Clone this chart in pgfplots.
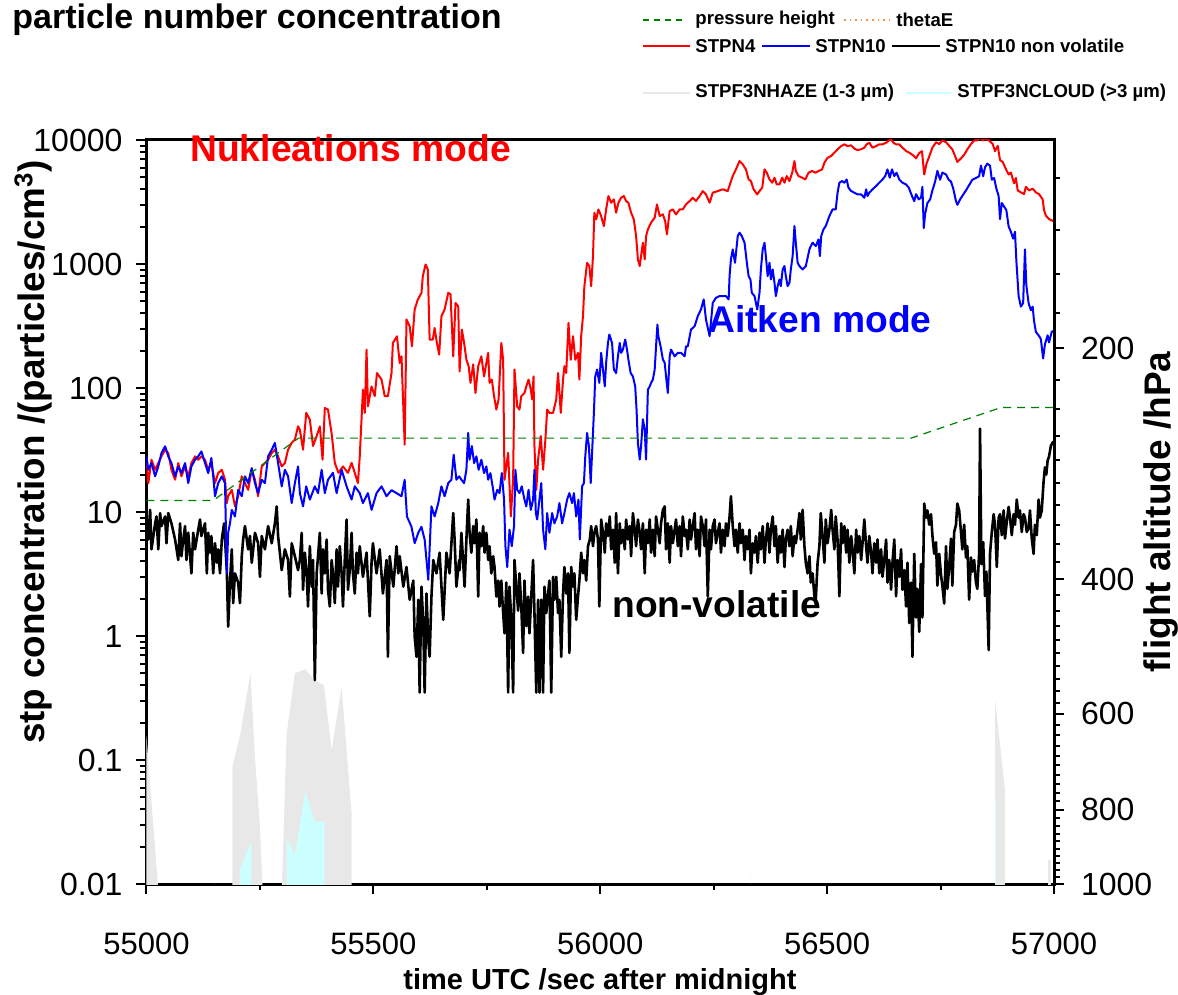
\documentclass[border=0pt]{standalone}
\usepackage{pgfplots}
\pgfplotsset{compat=1.18}
\usepackage{fontspec}
\setmainfont{Liberation Sans}
\definecolor{hazegray}{RGB}{232,232,232}
\definecolor{cloudcyan}{RGB}{204,255,255}
\definecolor{pgreen}{RGB}{0,128,0}
\definecolor{thetaorange}{RGB}{240,150,80}
\newcommand{\xtickfnt}{\fontsize{15.5pt}{16pt}\selectfont}
\newcommand{\ytickfnt}{\fontsize{16pt}{17pt}\selectfont}
\newcommand{\rtickfnt}{\fontsize{16pt}{17pt}\selectfont}
\newcommand{\legfnt}{\bfseries\fontsize{9.3pt}{10pt}\selectfont}
\begin{document}
\begin{tikzpicture}
\path[use as bounding box] (-73.25pt,-55.5pt) rectangle (515.75pt,442pt);
\begin{axis}[
  at={(0pt,0pt)}, anchor=south west,
  scale only axis, width=453.75pt, height=372pt,
  xmin=55000, xmax=57000,
  ymode=log, ymin=0.01, ymax=10000,
  axis line style={line width=1.5pt},
  tick align=outside, tick pos=left,
  scaled x ticks=false,
  xtick={55000,55500,56000,56500,57000},
  xticklabels={55000,55500,56000,56500,57000},
  minor xtick={55250,55750,56250,56750},
  ytick={0.01,0.1,1,10,100,1000,10000},
  yticklabels={0.01,0.1,1,10,100,1000,10000},
  minor ytick={0.02,0.03,0.04,0.05,0.06,0.07,0.08,0.09,0.2,0.3,0.4,0.5,0.6,0.7,0.8,0.9,2,3,4,5,6,7,8,9,20,30,40,50,60,70,80,90,200,300,400,500,600,700,800,900,2000,3000,4000,5000,6000,7000,8000,9000},
  major tick length=5pt, minor tick length=3pt,
  every tick/.style={black, line width=1pt},
  xticklabel style={font=\xtickfnt, yshift=-16pt},
  yticklabel style={font=\ytickfnt, xshift=-3.5pt},
]
% STPF3NHAZE (1-3 um)
\addplot[fill=hazegray, draw=none] coordinates {(55000,0.001) (55000,0.155) (55025,0.01) (55026,0.001)} -- cycle;
\addplot[fill=hazegray, draw=none] coordinates {(55147,0.001) (55149,0.0118) (55151,0.001)} -- cycle;
\addplot[fill=hazegray, draw=none] coordinates {(55189,0.001) (55189,0.0885) (55206,0.155) (55229,0.50) (55239,0.106) (55250,0.029) (55267,0.001)} -- cycle;
\addplot[fill=hazegray, draw=none] coordinates {(55290,0.001) (55309,0.164) (55327,0.50) (55350,0.54) (55371,0.44) (55391,0.40) (55408,0.12) (55430,0.39) (55452,0.037) (55452,0.001)} -- cycle;
\addplot[fill=hazegray, draw=none] coordinates {(56331,0.001) (56332,0.013) (56333,0.001)} -- cycle;
\addplot[fill=hazegray, draw=none] coordinates {(56870,0.001) (56870,0.31) (56892,0.057) (56892,0.001)} -- cycle;
\addplot[fill=hazegray, draw=none] coordinates {(56987,0.001) (56987,0.0156) (56993,0.0156) (56993,0.001)} -- cycle;
% STPF3NCLOUD (>3 um)
\addplot[fill=cloudcyan, draw=none] coordinates {(55198,0.001) (55206,0.013) (55229,0.0213) (55231,0.0213) (55231,0.001)} -- cycle;
\addplot[fill=cloudcyan, draw=none] coordinates {(55309,0.001) (55309,0.0233) (55327,0.0171) (55350,0.0556) (55371,0.0318) (55392,0.0318) (55392,0.001)} -- cycle;
\addplot[fill=cloudcyan, draw=none] coordinates {(56870,0.001) (56870,0.048) (56873,0.048) (56873,0.001)} -- cycle;
% STPN10 non volatile
\addplot[black, line width=1.3pt, line join=round] coordinates {
(55000,9.2) (55004,6.0) (55008,10.4) (55011,5.0) (55019,8.1) (55022,9.2) (55026,5.0) (55030,9.8) (55033,7.7) (55041,9.2) (55044,5.6) (55048,9.8) (55055,8.1) (55063,6.0) (55070,4.1) (55074,8.1) (55077,4.4) (55081,6.0) (55085,7.7) (55088,4.1) (55092,6.8) (55099,3.2) (55103,6.8) (55107,5.0) (55114,7.2) (55118,8.7) (55121,6.4) (55129,8.1) (55133,3.2) (55136,6.8) (55140,4.7) (55143,6.4) (55147,3.2) (55151,5.6) (55155,3.9) (55158,5.0) (55162,3.2) (55166,6.0) (55171,8.1) (55177,3.4) (55180,1.19) (55184,2.7) (55188,5.0) (55191,1.84) (55195,3.2) (55202,2.7) (55206,1.84) (55210,4.4) (55213,6.0) (55217,7.7) (55224,5.0) (55228,6.4) (55232,3.9) (55239,6.8) (55246,5.6) (55250,3.0) (55254,6.4) (55261,5.0) (55268,7.7) (55276,5.6) (55283,8.1) (55287,11.1) (55290,6.4) (55298,3.4) (55305,5.0) (55312,4.1) (55316,2.08) (55320,5.6) (55327,4.4) (55334,3.4)
(55338,4.1) (55342,6.8) (55345,2.36) (55349,4.7) (55353,3.2) (55356,1.73) (55360,5.3) (55364,2.5) (55367,4.1) (55371,0.44) (55375,3.2) (55378,4.4) (55382,6.8) (55386,2.2) (55389,5.0) (55393,3.2) (55397,6.0) (55400,2.36) (55404,1.73) (55408,4.1) (55411,3.2) (55415,1.84) (55419,5.0) (55422,2.5) (55426,5.3) (55430,3.2) (55433,1.73) (55437,4.1) (55441,8.7) (55444,2.36) (55448,3.4) (55452,6.8) (55455,3.2) (55459,2.2) (55463,4.7) (55466,3.2) (55470,5.3) (55477,3.0) (55485,4.7) (55492,1.44) (55496,3.9) (55499,5.6) (55507,3.2) (55514,5.0) (55521,2.2) (55529,4.1) (55532,0.68) (55536,4.4) (55544,2.5) (55551,5.3) (55555,3.2) (55558,4.4) (55566,2.5) (55573,3.6) (55580,1.96) (55588,2.8) (55591,0.99) (55595,0.68) (55599,1.96) (55602,0.35) (55606,2.5) (55610,1.27) (55613,0.35) (55617,2.2) (55621,0.93) (55624,0.68) (55628,2.08) (55632,4.1) (55639,3.2) (55646,4.7) (55654,1.35) (55661,4.7) (55668,3.2) (55676,9.8) (55679,6.0) (55683,2.5) (55689,4.1)
(55690,3.4) (55694,6.8) (55698,3.9) (55701,2.5) (55705,6.0) (55709,12.6) (55712,6.8) (55716,4.7) (55720,7.7) (55723,5.6) (55727,8.7) (55731,2.08) (55734,6.8) (55738,5.3) (55742,7.7) (55745,4.7) (55749,6.8) (55753,4.1) (55756,5.3) (55760,3.2) (55764,4.4) (55767,3.6) (55771,2.08) (55775,2.8) (55778,1.73) (55782,2.8) (55786,1.53) (55789,1.05) (55793,2.7) (55797,0.35) (55800,2.5) (55804,1.35) (55808,0.35) (55811,4.1) (55815,2.5) (55819,1.6) (55822,3.2) (55826,1.73) (55830,0.73) (55833,2.8) (55837,1.2) (55841,2.08) (55844,1.05) (55848,2.08) (55852,4.1) (55855,1.53) (55859,0.35) (55863,1.96) (55866,0.35) (55870,1.96) (55874,0.35) (55877,2.5) (55881,1.53) (55885,2.2) (55888,2.8) (55892,0.35) (55896,3.0) (55899,1.96) (55903,3.0) (55907,1.53) (55910,1.96) (55914,0.68) (55918,2.2) (55921,3.6) (55925,2.2) (55929,3.2) (55932,0.73) (55936,3.6) (55940,2.5) (55943,3.2) (55947,1.35) (55951,2.08) (55954,2.8) (55958,4.7) (55962,3.2) (55965,4.1) (55969,2.8) (55973,5.3) (55977,6.0) (55980,7.7) (55984,5.3) (55987,6.8) (55991,7.7) (55995,6.0) (55998,1.73) (56002,8.7) (56006,6.8)
(56010,4.7) (56013,8.1) (56017,6.4) (56021,9.2) (56024,5.0) (56028,7.2) (56032,3.9) (56035,9.8) (56039,3.2) (56043,8.1) (56046,5.6) (56050,7.2) (56054,5.0) (56057,8.7) (56061,6.0) (56065,7.7) (56068,4.4) (56072,9.8) (56076,7.2) (56079,5.3) (56083,8.7) (56087,6.8) (56090,5.0) (56094,8.1) (56098,3.2) (56101,7.2) (56105,5.6) (56109,8.7) (56112,4.7) (56116,7.2) (56120,4.4) (56123,9.2) (56127,7.2) (56131,5.6) (56134,8.1) (56138,10.4) (56142,11.1) (56145,5.0) (56149,8.1) (56153,3.9) (56156,7.7) (56160,5.6) (56164,7.2) (56167,8.7) (56171,5.3) (56175,7.7) (56178,4.4) (56182,9.2) (56186,6.4) (56189,7.2) (56193,5.0) (56197,8.7) (56200,6.0) (56204,7.7) (56208,9.8) (56211,5.0) (56215,7.2) (56219,4.4) (56222,9.2) (56226,7.7) (56230,5.3) (56233,8.7) (56237,2.09) (56241,7.2) (56244,5.0) (56248,7.7) (56252,8.7) (56255,5.6) (56259,6.8) (56263,8.1) (56266,4.7) (56270,7.2) (56274,5.3) (56277,8.1) (56281,6.4) (56285,9.2) (56288,13.4) (56292,7.7) (56296,5.3) (56299,7.2) (56303,4.7) (56307,8.1) (56310,5.6) (56314,7.2) (56318,4.1) (56321,6.4) (56325,5.0) (56329,7.2) (56332,3.2) (56336,5.6) (56340,4.7) (56343,6.4) (56347,3.9)
(56351,6.8) (56354,5.0) (56358,7.7) (56362,3.9) (56365,6.0) (56369,8.1) (56373,4.7) (56376,7.2) (56380,9.2) (56384,5.3) (56387,7.7) (56391,3.9) (56395,6.4) (56398,4.7) (56402,7.2) (56406,3.6) (56409,6.0) (56413,7.2) (56417,5.3) (56420,7.7) (56424,4.4) (56428,6.4) (56431,5.6) (56435,7.2) (56439,9.8) (56442,6.0) (56446,10.4) (56450,5.3) (56453,3.9) (56457,3.2) (56461,4.4) (56464,2.7) (56468,3.2) (56472,2.09) (56475,1.96) (56479,3.9) (56483,5.3) (56486,9.8) (56490,6.4) (56494,3.9) (56497,8.7) (56501,5.6) (56505,7.2) (56509,10.4) (56512,7.2) (56516,5.0) (56519,9.2) (56523,6.0) (56527,2.09) (56531,8.1) (56534,5.6) (56538,7.7) (56542,4.7) (56545,7.2) (56549,3.9) (56553,6.4) (56556,5.0) (56560,3.2) (56564,7.2) (56567,4.7) (56571,6.4) (56575,4.1) (56578,5.6) (56582,8.7) (56586,5.3) (56589,3.9) (56593,6.4) (56597,4.7) (56600,3.2) (56604,5.6) (56608,3.9) (56611,6.0) (56615,3.2) (56619,5.0) (56622,3.0) (56626,4.1) (56630,6.0) (56633,2.7) (56637,4.1) (56641,2.36) (56644,3.9) (56648,6.0) (56652,2.09) (56655,4.1) (56659,3.0) (56663,5.0) (56666,2.36) (56670,3.4) (56674,1.73) (56677,3.9) (56681,1.27)
(56685,2.7) (56688,0.68) (56692,4.6) (56696,1.41) (56699,2.4) (56703,1.08) (56707,3.8) (56710,1.41) (56714,11.7) (56718,9.0) (56721,10.3) (56725,7.9) (56729,9.6) (56732,6.5) (56736,4.6) (56740,5.7) (56743,2.55) (56747,4.6) (56751,3.1) (56754,2.55) (56758,1.83) (56762,5.3) (56765,2.4) (56769,3.6) (56773,6.1) (56776,2.55) (56780,6.9) (56784,7.9) (56787,11.7) (56791,10.3) (56795,6.9) (56798,5.0) (56802,7.9) (56806,4.3) (56809,5.3) (56813,1.96) (56817,4.3) (56820,3.3) (56824,4.1) (56828,2.7) (56831,2.4) (56835,4.6) (56837,47) (56840,3.8) (56844,5.7) (56848,2.1) (56851,3.3) (56856,0.77) (56859,4.6) (56863,6.9) (56867,9.6) (56870,7.9) (56874,3.6) (56878,9.0) (56881,9.6) (56885,6.5) (56889,10.3) (56892,6.1) (56896,8.4) (56900,11.0) (56903,9.0) (56907,6.5) (56911,9.6) (56914,7.9) (56918,12.6) (56922,9.0) (56925,10.3) (56929,6.9) (56933,9.6) (56936,9.0) (56940,6.9) (56944,7.4) (56947,10.3) (56951,6.1) (56955,4.6) (56958,7.9) (56962,6.5) (56966,12.6) (56969,9.0) (56973,10.3) (56977,17.5) (56980,22.9) (56983,20.0) (56986,26.1) (56989,27.9) (56993,34.0) (56997,36.3) (57000,37)
};
% STPN4
\addplot[red, line width=1pt, line join=round] coordinates {
(55000,24.8) (55004,17.1) (55011,26.4) (55019,21.9) (55026,24.8) (55033,28.1) (55041,31.8) (55048,29.9) (55055,21.9) (55063,18.2) (55070,24.8) (55077,19.4) (55085,23.3) (55092,19.4) (55099,24.8) (55107,28.1) (55114,26.4) (55121,28.1) (55129,26.4) (55136,21.9) (55143,24.8) (55151,17.1) (55158,20.6) (55166,21.9) (55173,18.2) (55177,11.8) (55180,13.4) (55188,15.1) (55195,11.1) (55202,13.4) (55210,19.4) (55217,17.1) (55224,15.1) (55232,21.9) (55239,18.2) (55246,13.4) (55254,23.3) (55261,24.8) (55268,26.4) (55276,29.9) (55283,31.8) (55290,28.1) (55298,23.3) (55305,24.8) (55312,31.8) (55320,36.1) (55327,38.3) (55334,49.1)
(55338,46) (55345,31.8) (55352,63) (55360,55.6) (55367,34) (55375,41) (55382,49) (55388,26.4) (55393,69) (55400,67) (55408,43) (55415,24.9) (55423,20.7) (55433,23.3) (55444,20.7) (55452,24.9) (55459,20.7) (55466,17.1) (55470,28.1) (55477,97) (55481,63) (55485,204) (55488,71) (55496,103) (55503,86) (55508,132) (55518,117) (55525,86) (55532,86) (55540,132) (55543,231) (55552,261) (55558,159) (55562,180) (55569,34.9) (55573,357) (55580,315) (55585,217) (55591,430) (55598,517) (55606,585) (55609,798) (55615,991) (55620,903) (55624,246) (55631,246) (55635,305) (55640,231) (55645,186) (55650,379) (55657,430) (55665,585) (55670,570) (55676,180) (55681,485) (55687,456)
(55690,136) (55695,296) (55700,231) (55705,169) (55710,150) (55714,110) (55720,155) (55725,91) (55731,150) (55738,180) (55744,124) (55749,159) (55753,192) (55756,110) (55761,117) (55766,86) (55771,67) (55776,81) (55782,231) (55786,169) (55789,18.2) (55797,30) (55803,9.2) (55808,18.2) (55811,141) (55817,71) (55822,67) (55826,86) (55833,91) (55837,103) (55842,117) (55847,97) (55850,81) (55853,124) (55855,34) (55859,15.1) (55863,26.4) (55869,41) (55874,21.9) (55879,38) (55883,67) (55888,63) (55896,63) (55903,81) (55907,132) (55913,63) (55918,117) (55921,150) (55925,132) (55930,335) (55935,169) (55940,262) (55945,169) (55951,192) (55954,117) (55958,262) (55962,380) (55965,662) (55971,1021) (55976,960) (55980,662) (55984,1156) (55987,2588) (55991,2286) (55996,2754) (56002,2432) (56008,2018)
(56013,2756) (56018,3532) (56024,3120) (56030,3318) (56035,2591) (56040,3120) (56046,3423) (56052,3532) (56057,3218) (56062,3120) (56068,2591) (56074,2291) (56079,1680) (56083,1089) (56087,962) (56090,1158) (56094,1484) (56098,1089) (56101,1680) (56105,1903) (56112,2154) (56120,2362) (56125,3025) (56131,2436) (56138,2512) (56143,2221) (56147,1733) (56153,2673) (56160,2756) (56167,2512) (56175,2756) (56182,2756) (56189,3025) (56197,3218) (56204,3423) (56211,3218) (56219,3532) (56226,3875) (56233,3642) (56241,3120) (56248,3758) (56259,3875) (56270,4000) (56281,3875) (56287,4524) (56292,5117) (56299,5794) (56307,6761) (56314,6366) (56321,5794) (56327,4808) (56332,4664) (56338,4000) (56346,3642)
(56351,3875) (56357,4124) (56362,5794) (56367,5445) (56373,4808) (56379,4524) (56384,4966) (56389,4385) (56395,4385) (56401,4966) (56406,4524) (56411,5117) (56417,4664) (56423,5445) (56428,6761) (56431,5623) (56437,5117) (56445,4966) (56452,4808) (56459,5445) (56467,5623) (56474,5445) (56481,5623) (56489,5794) (56494,6561) (56501,7194) (56509,7430) (56516,7907) (56523,8414) (56531,8933) (56538,9226) (56545,8933) (56553,9057) (56560,8511) (56567,8300) (56575,8414) (56582,8670) (56587,9226) (56593,9506) (56600,8670) (56608,8933) (56615,9226) (56622,9226) (56630,9506) (56635,9815) (56641,10120) (56646,9506) (56652,9226) (56659,9226) (56666,8670) (56674,8147) (56681,7907)
(56688,7600) (56696,7110) (56703,7860) (56709,8130) (56714,5270) (56719,6440) (56725,7360) (56732,8690) (56740,9590) (56747,9270) (56754,9910) (56762,9590) (56769,8970) (56776,8400) (56784,7110) (56787,6650) (56795,7110) (56802,7600) (56809,8400) (56817,9270) (56824,9910) (56831,9910) (56839,10590) (56842,9910) (56848,10260) (56857,9910) (56865,9270) (56870,8130) (56876,8970) (56881,6890) (56887,6650) (56894,5830) (56900,5270) (56905,5460) (56912,4470) (56916,4940) (56920,3920) (56927,3780) (56934,3660) (56938,4190) (56945,3920) (56953,4050) (56960,3780) (56967,3660) (56975,3320) (56978,2720) (56982,2460) (56989,2300) (56997,2230) (57000,2200)
};
% STPN10
\addplot[blue, line width=1pt, line join=round] coordinates {
(55000,28.1) (55004,21.9) (55011,24.8) (55019,19.4) (55026,23.3) (55033,29.9) (55041,33.9) (55048,28.1) (55055,24.8) (55063,19.4) (55070,23.3) (55077,20.6) (55085,24.8) (55092,17.1) (55099,23.3) (55107,26.4) (55114,28.1) (55121,30.8) (55129,24.8) (55136,20.6) (55143,27.3) (55147,19.4) (55151,13.4) (55158,17.1) (55166,19.4) (55173,17.1) (55177,3.2) (55180,6.8) (55184,8.1) (55188,10.4) (55195,9.2) (55202,15.1) (55210,13.4) (55217,19.4) (55224,17.1) (55232,22.6) (55239,17.1) (55246,14.2) (55254,18.2) (55261,17.1) (55268,28.1) (55276,31.8) (55283,36.1) (55290,24.8) (55298,16.1) (55305,21.9) (55312,19.4) (55320,11.8) (55327,17.1) (55334,23.3)
(55338,14.2) (55345,11.1) (55352,16.1) (55360,12.6) (55371,16.1) (55378,14.2) (55386,21.9) (55393,14.2) (55400,18.2) (55411,20.7) (55419,14.2) (55430,21.9) (55441,16.1) (55452,12.6) (55459,16.1) (55470,14.2) (55477,11.8) (55488,14.2) (55496,10.4) (55507,14.2) (55518,16.1) (55529,13.4) (55540,15) (55551,14.2) (55562,13.4) (55569,18.2) (55574,9.2) (55584,7.6) (55591,5.6) (55599,6.8) (55606,7.6) (55613,6.0) (55621,2.84) (55628,11.1) (55635,9.2) (55643,11.8) (55650,16.1) (55657,13.4) (55665,17.1) (55672,18.2) (55677,29) (55683,18.2) (55689,19.4)
(55694,18.2) (55700,17.1) (55705,21.9) (55709,43.4) (55712,26.4) (55717,34) (55722,24.8) (55727,28.1) (55732,21.9) (55738,26.4) (55744,20.6) (55749,23.3) (55753,18.2) (55758,20.6) (55764,15.1) (55767,12.6) (55773,15.1) (55778,14.2) (55783,20.6) (55788,12.6) (55791,5.3) (55795,3.6) (55800,7.2) (55805,5.3) (55810,7.7) (55813,21.9) (55817,15.1) (55822,14.2) (55827,16.1) (55833,12.6) (55837,11.1) (55842,15.1) (55847,10.4) (55852,12.6) (55855,21.9) (55858,9.8) (55861,8.7) (55866,12.6) (55870,17.1) (55874,7.2) (55879,5.0) (55883,9.8) (55888,6.8) (55894,9.8) (55899,8.1) (55905,9.2) (55910,11.8) (55916,8.1) (55921,9.8) (55927,12.6) (55932,14.2) (55938,11.8) (55942,14.2) (55947,9.2) (55952,12.6) (55955,6.0) (55960,16.1) (55964,17.1) (55967,28.1) (55971,43.4) (55975,34) (55979,17.1) (55982,30) (55986,63) (55989,124) (55993,141) (55998,110) (56002,192) (56006,141)
(56010,103) (56013,160) (56017,231) (56020,270) (56026,231) (56030,141) (56035,132) (56039,180) (56043,231) (56046,192) (56050,204) (56055,246) (56059,204) (56062,170) (56067,132) (56072,124) (56077,103) (56080,67) (56083,36) (56087,26.5) (56090,34) (56094,56) (56098,46) (56101,26.5) (56105,97) (56109,103) (56112,110) (56116,117) (56120,141) (56123,217) (56126,325) (56128,262) (56133,217) (56138,170) (56142,160) (56145,124) (56149,91) (56153,180) (56156,204) (56164,180) (56171,192) (56178,192) (56186,180) (56189,217) (56193,217) (56200,296) (56208,315) (56215,380) (56222,430) (56228,518) (56233,357) (56241,262) (56248,486) (56255,534) (56263,551) (56270,551) (56277,551) (56283,518) (56285,798) (56288,1089) (56292,1310) (56297,1023) (56303,1680) (56307,1787) (56312,1680) (56318,1484) (56324,962) (56327,798) (56331,750) (56334,586) (56340,551) (56346,430)
(56351,586) (56354,904) (56358,1310) (56362,1484) (56365,1158) (56369,798) (56373,1023) (56376,750) (56380,904) (56384,705) (56387,551) (56391,663) (56395,750) (56398,663) (56402,904) (56406,962) (56409,798) (56413,663) (56417,705) (56420,904) (56424,1158) (56428,2024) (56431,1484) (56435,1023) (56439,962) (56446,904) (56453,962) (56461,1310) (56464,1394) (56468,1484) (56475,1394) (56481,1578) (56484,1158) (56487,1680) (56492,1903) (56497,2024) (56505,2436) (56512,2756) (56519,2756) (56523,3758) (56527,4524) (56533,4664) (56538,4524) (56543,4808) (56547,4124) (56553,3875) (56560,3758) (56567,3642) (56575,3642) (56582,3423) (56586,4000) (56589,3532) (56593,3758) (56600,4000) (56608,4256) (56615,4524) (56622,4808) (56628,5117) (56633,5794) (56638,4966) (56643,5794) (56648,5117) (56653,5445) (56659,4808) (56666,4524) (56674,4385) (56680,4124)
(56687,3540) (56692,3210) (56696,3660) (56702,3320) (56707,3430) (56710,4190) (56713,1950) (56716,2540) (56721,3100) (56727,3320) (56732,3920) (56738,4620) (56743,5640) (56749,4780) (56754,5460) (56762,5270) (56768,4780) (56773,4620) (56778,4050) (56784,3210) (56787,3000) (56793,3320) (56798,3540) (56806,3920) (56813,4330) (56820,4780) (56828,4940) (56835,5100) (56839,6220) (56844,5100) (56848,6030) (56853,6440) (56859,6220) (56863,4780) (56868,4940) (56873,4050) (56878,3540) (56881,2300) (56885,3100) (56890,2900) (56895,2720) (56900,2010) (56905,1820) (56910,1600) (56914,1820) (56917,1070) (56922,552) (56927,453) (56932,484) (56936,1310) (56939,675) (56944,484) (56949,424) (56953,453) (56956,348) (56960,284) (56966,266) (56971,249) (56976,173) (56980,225) (56986,266) (56989,233) (56995,284) (57000,290)
};
\end{axis}
\begin{axis}[
  at={(0pt,0pt)}, anchor=south west,
  scale only axis, width=453.75pt, height=372pt,
  xmin=55000, xmax=57000,
  ymode=log, ymin=107, ymax=1000, y dir=reverse,
  axis x line=none, axis y line*=right,
  axis line style={line width=1.5pt, -},
  tick align=outside,
  ytick={200,400,600,800,1000},
  yticklabels={200,400,600,800,1000},
  minor ytick={120,140,160,180,220,240,260,280,300,320,340,360,380,420,440,460,480,500,520,540,560,580,620,640,660,680,700,720,740,760,780,820,840,860,880,900,920,940,960,980},
  major tick length=5pt, minor tick length=3pt,
  every tick/.style={black, line width=1pt},
  yticklabel style={font=\rtickfnt, xshift=5pt},
]
\addplot[pgreen, line width=0.6pt, dash pattern=on 4pt off 3pt] coordinates {(55000,316) (55147,316) (55335,262) (56685,262) (56883,239) (57000,239)};
\end{axis}
% titles and labels
\node[anchor=base west, inner sep=0pt, font=\bfseries\fontsize{17pt}{18pt}\selectfont] at (-67.25pt,427.5pt) {particle number concentration};
\node[rotate=90, font=\bfseries\fontsize{18.4pt}{19pt}\selectfont] at (-56.5pt,216pt) {stp concentration /(particles/cm\textsuperscript{3})};
\node[rotate=90, font=\bfseries\fontsize{18.5pt}{20pt}\selectfont] at (507.5pt,186pt) {flight altitude /hPa};
\node[anchor=base, font=\bfseries\fontsize{14.5pt}{16pt}\selectfont] at (226.75pt,-52.5pt) {time UTC /sec after midnight};
% annotations
\node[anchor=base west, red, font=\bfseries\fontsize{18.6pt}{19pt}\selectfont, inner sep=0pt] at (21.75pt,361pt) {Nukleations mode};
\node[anchor=base west, blue, font=\bfseries\fontsize{18.6pt}{19pt}\selectfont, inner sep=0pt] at (280.75pt,275.5pt) {Aitken mode};
\node[anchor=base west, black, font=\bfseries\fontsize{18.6pt}{19pt}\selectfont, inner sep=0pt] at (232.75pt,133pt) {non-volatile};
% legend
\draw[pgreen, line width=0.6pt, dash pattern=on 3pt off 2.5pt] (248.25pt,432pt) -- (269.25pt,432pt);
\node[anchor=west, inner sep=0pt, font=\legfnt] at (274.25pt,432pt) {pressure height};
\draw[thetaorange, line width=0.6pt, dash pattern=on 0.8pt off 2pt] (348.75pt,432pt) -- (371.75pt,432pt);
\node[anchor=west, inner sep=0pt, font=\legfnt] at (374.75pt,432pt) {thetaE};
\draw[red, line width=1pt] (248.25pt,419pt) -- (271.75pt,419pt);
\node[anchor=west, inner sep=0pt, font=\legfnt] at (274.25pt,419pt) {STPN4};
\draw[blue, line width=1pt] (307.75pt,419pt) -- (331.75pt,419pt);
\node[anchor=west, inner sep=0pt, font=\legfnt] at (334.25pt,419pt) {STPN10};
\draw[black, line width=1pt] (372.75pt,419pt) -- (396.75pt,419pt);
\node[anchor=west, inner sep=0pt, font=\legfnt] at (399.25pt,419pt) {STPN10 non volatile};
\draw[hazegray, line width=1.2pt] (248.25pt,395.5pt) -- (271.75pt,395.5pt);
\node[anchor=west, inner sep=0pt, font=\legfnt] at (274.25pt,395.5pt) {STPF3NHAZE (1-3 µm)};
\draw[cloudcyan, line width=1.2pt] (379.75pt,395.5pt) -- (402.75pt,395.5pt);
\node[anchor=west, inner sep=0pt, font=\legfnt] at (405.25pt,395.5pt) {STPF3NCLOUD (>3 µm)};
\end{tikzpicture}
\end{document}
